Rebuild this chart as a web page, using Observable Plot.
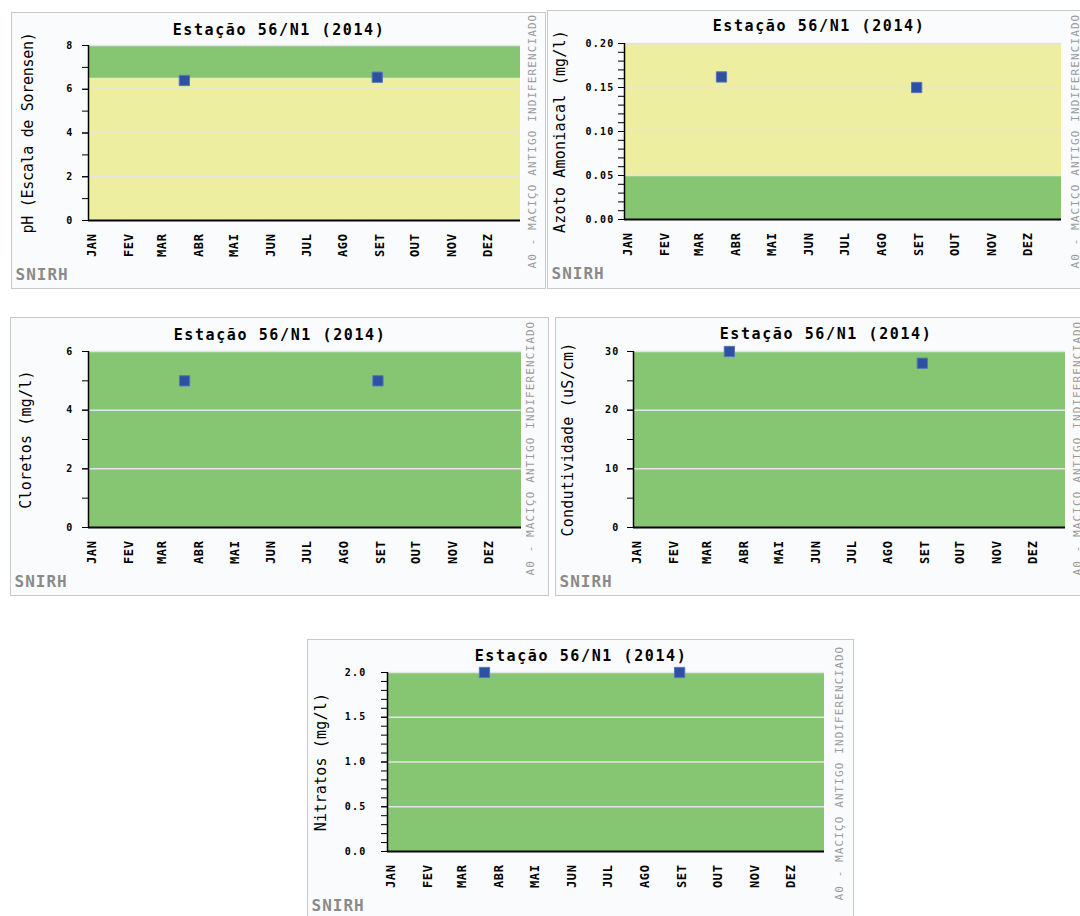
<!DOCTYPE html>
<html>
<head>
<meta charset="utf-8">
<script src="https://cdn.jsdelivr.net/npm/d3@7"></script>
<script src="https://cdn.jsdelivr.net/npm/@observablehq/plot@0.6"></script>
<style>
  html, body { margin: 0; padding: 0; background: #ffffff; }
  #root { position: relative; width: 1080px; height: 916px; overflow: hidden; }
  .panel { position: absolute; box-sizing: border-box; border: 1px solid #c8c8c8; background: #fafbfd; overflow: hidden; }
  .panel svg { position: absolute; left: 0; top: 0; }
</style>
</head>
<body>
<div id="root"></div>
<script>
// ---------- data ----------
const titleText = "Estação 56/N1 (2014)";
const aquiferText = "A0 - MACIÇO ANTIGO INDIFERENCIADO";
const sourceText = "SNIRH";
const months = ["JAN","FEV","MAR","ABR","MAI","JUN","JUL","AGO","SET","OUT","NOV","DEZ"];
const sampleDates = ["2014-03-23", "2014-09-02"];

const phValues = [6.4, 6.55];
const azotoValues = [0.162, 0.15];
const cloretosValues = [5, 5];
const condutividadeValues = [30, 28];
const nitratosValues = [2.0, 2.0];

// band limits and class of each band (A = green, B = yellow)
const phLimits = [0, 6.5, 8];
const phClasses = ["B", "A"];
const azotoLimits = [0, 0.05, 0.20];
const azotoClasses = ["A", "B"];
const cloretosLimits = [0, 6];
const cloretosClasses = ["A"];
const condutividadeLimits = [0, 30];
const condutividadeClasses = ["A"];
const nitratosLimits = [0, 2.0];
const nitratosClasses = ["A"];

// y tick labels
const phTicks = [0, 2, 4, 6, 8];
const azotoTicks = [0, 0.05, 0.10, 0.15, 0.20];
const cloretosTicks = [0, 2, 4, 6];
const condutividadeTicks = [0, 10, 20, 30];
const nitratosTicks = [0, 0.5, 1.0, 1.5, 2.0];

// ---------- styles ----------
const GREEN = "#86c673";
const YELLOW = "#eeeea0";

const panels = [
  {ylabel: "pH (Escala de Sorensen)", values: phValues, limits: phLimits, classes: phClasses,
   ticks: phTicks, minorStep: 1, fmt: d3.format("d"),
   left: 11, top: 12, w: 535, h: 277, ml: 76, mt: 32, mr: 25, mb: 68,
   pad: 9, titleDy: -15, titleAdj: 0, ylDx: -60, ylSpacing: "-0.3px", rDx: 12, rDy: 48},
  {ylabel: "Azoto Amoniacal (mg/l)", values: azotoValues, limits: azotoLimits, classes: azotoClasses,
   ticks: azotoTicks, minorStep: 0.01, fmt: d3.format(".2f"),
   left: 547, top: 10, w: 535, h: 279, ml: 76, mt: 32, mr: 20, mb: 69,
   pad: 4, titleDy: -17, titleAdj: 4, ylDx: -64, ylSpacing: "0.2px", rDx: 14, rDy: 49},
  {ylabel: "Cloretos (mg/l)", values: cloretosValues, limits: cloretosLimits, classes: cloretosClasses,
   ticks: cloretosTicks, minorStep: 1, fmt: d3.format("d"),
   left: 10, top: 317, w: 539, h: 279, ml: 77, mt: 33, mr: 27, mb: 68,
   pad: 9, titleDy: -16, titleAdj: 0, ylDx: -62, ylSpacing: "0.2px", rDx: 9, rDy: 48},
  {ylabel: "Condutividade (uS/cm)", values: condutividadeValues, limits: condutividadeLimits, classes: condutividadeClasses,
   ticks: condutividadeTicks, minorStep: 5, fmt: d3.format("d"),
   left: 555, top: 317, w: 535, h: 279, ml: 77, mt: 33, mr: 24, mb: 68,
   pad: 8, titleDy: -17, titleAdj: 3, ylDx: -65, ylSpacing: "0.2px", rDx: 12, rDy: 48},
  {ylabel: "Nitratos (mg/l)", values: nitratosValues, limits: nitratosLimits, classes: nitratosClasses,
   ticks: nitratosTicks, minorStep: 0.1, fmt: d3.format(".1f"),
   left: 307, top: 639, w: 547, h: 281, ml: 79, mt: 32, mr: 29, mb: 68,
   pad: 15, titleDy: -16, titleAdj: 0, ylDx: -66, ylSpacing: "0.2px", rDx: 15, rDy: 49}
];

const xDomain = [new Date(Date.UTC(2014, 0, 1)), new Date(Date.UTC(2015, 0, 1))];
const monthTicks = months.map((m, i) => ({date: new Date(Date.UTC(2014, i, 1)), m}));

const root = document.getElementById("root");

for (const p of panels) {
  const div = document.createElement("div");
  div.className = "panel";
  Object.assign(div.style, {left: p.left + "px", top: p.top + "px", width: p.w + "px", height: p.h + "px"});
  root.appendChild(div);

  const width = p.w - 2, height = p.h - 2;
  const bands = p.classes.map((c, i) => ({y1: p.limits[i], y2: p.limits[i + 1], c}));
  const pts = sampleDates.map((d, i) => ({date: new Date(d), v: p.values[i]}));
  const yMax = p.limits[p.limits.length - 1];
  const nMinor = Math.round((yMax - p.limits[0]) / p.minorStep);
  const minor = d3.range(nMinor + 1).map(i => p.limits[0] + i * p.minorStep);
  const tickLabels = new Set(p.ticks.map(p.fmt));

  const svg = Plot.plot({
    width, height,
    marginLeft: p.ml, marginTop: p.mt, marginRight: p.mr, marginBottom: p.mb,
    x: {type: "utc", domain: xDomain, axis: null},
    y: {domain: [p.limits[0], yMax]},
    color: {type: "identity"},
    style: {fontFamily: "DejaVu Sans Mono", background: "transparent", overflow: "visible", color: "black"},
    marks: [
      Plot.rectY(bands, {x1: () => xDomain[0], x2: () => xDomain[1], y1: "y1", y2: "y2",
        fill: d => d.c === "A" ? GREEN : YELLOW}),
      Plot.gridY(p.ticks.filter(v => v > p.limits[0]), {stroke: "#e4e4e4", strokeOpacity: 1, strokeWidth: 1.5}),
      Plot.axisY(minor, {tickSize: 6, tickFormat: () => "", label: null, stroke: "black", strokeWidth: 1}),
      Plot.axisY(p.ticks, {tickSize: 6, tickPadding: p.pad, tickFormat: p.fmt, label: null,
        fontSize: 10, fontWeight: "bold", fill: "black", stroke: "black"}),
      Plot.ruleX([xDomain[0]], {stroke: "black", strokeWidth: 1.5}),
      Plot.ruleY([p.limits[0]], {stroke: "black", strokeWidth: 2}),
      Plot.text(monthTicks, {x: "date", text: "m", frameAnchor: "bottom", rotate: -90, textAnchor: "end",
        lineAnchor: "middle", dy: 13, dx: 4, fontSize: 12, fontWeight: "bold", fill: "black"}),
      Plot.dot(pts, {x: "date", y: "v", symbol: "square", r: 5.8, fill: "#2e50a2", stroke: "#5a76b8", strokeWidth: 1}),
      Plot.text([titleText], {text: d => d, frameAnchor: "top", textAnchor: "middle", lineAnchor: "middle",
        dx: (p.mr - p.ml) / 2 + p.titleAdj, dy: p.titleDy, fontSize: 15, fontWeight: "bold", fill: "black"}),
      Plot.text([p.ylabel], {text: d => d, frameAnchor: "left", rotate: -90, textAnchor: "middle", lineAnchor: "middle",
        dx: p.ylDx, fontSize: 15, fill: "black"}),
      Plot.text([sourceText], {text: d => d, frameAnchor: "bottom-left", textAnchor: "start", lineAnchor: "middle",
        dx: 3 - p.ml, dy: 54, fontSize: 16, fontWeight: "bold", fill: "#8a8a8a"}),
      Plot.text([aquiferText], {text: d => d, frameAnchor: "bottom-right", rotate: -90, textAnchor: "start",
        lineAnchor: "middle", dx: p.rDx, dy: p.rDy, fontSize: 11, fill: "#9a9a9a"})
    ]
  });

  // fine typography: letter spacing of the pixel-like monospace original
  svg.querySelectorAll("text").forEach(t => {
    const s = t.textContent;
    if (s === titleText) t.style.letterSpacing = "1.6px";
    else if (s === p.ylabel) t.style.letterSpacing = p.ylSpacing;
    else if (s === sourceText) t.style.letterSpacing = "1px";
    else if (s === aquiferText) t.style.letterSpacing = "1.1px";
    else if (months.includes(s)) t.style.letterSpacing = "0.6px";
    else if (tickLabels.has(s)) {
      t.style.letterSpacing = "1.2px";
      t.style.fontSize = "10px";
      t.style.fontWeight = "bold";
    }
  });
  div.appendChild(svg);
}
</script>
</body>
</html>
